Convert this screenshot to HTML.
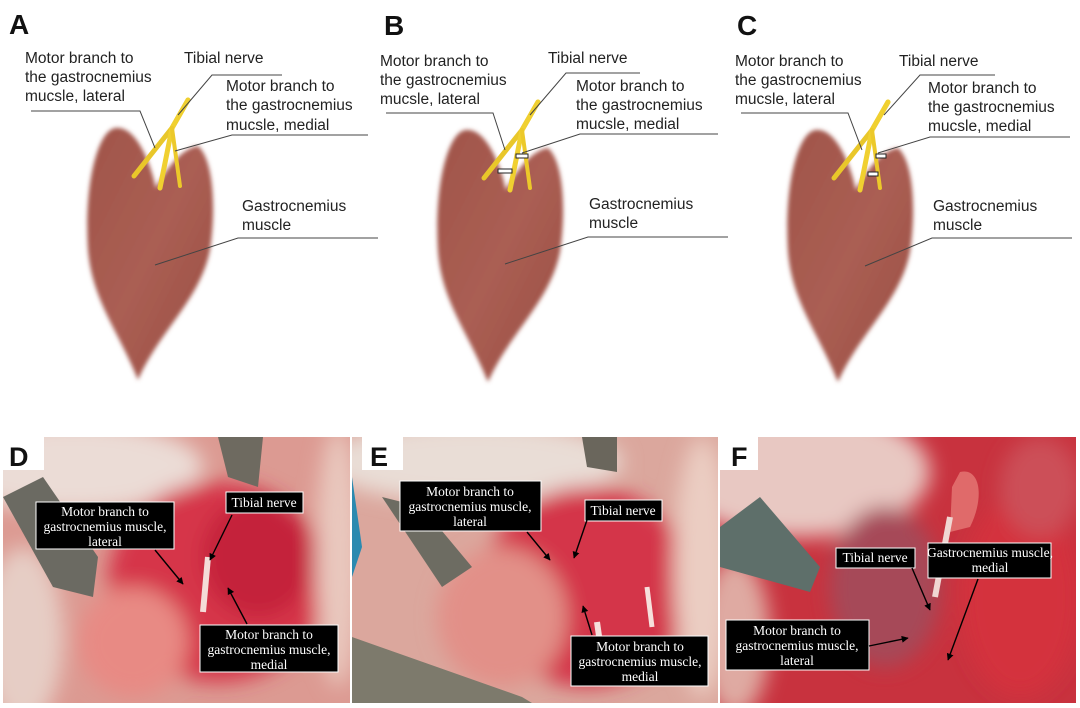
<!DOCTYPE html>
<html><head><meta charset="utf-8"><style>
html,body{margin:0;padding:0;background:#fff;}
svg{display:block;}
.lab{font-family:"Liberation Sans",sans-serif;font-size:15.5px;fill:#222;}
.big{font-family:"Liberation Sans",sans-serif;font-weight:bold;font-size:28px;fill:#111;}
.ln{stroke:#444;stroke-width:1;fill:none;}
.bx{fill:#000;stroke:#fff;stroke-width:1;}
.st{font-family:"Liberation Serif",serif;font-size:13.5px;fill:#fff;text-anchor:middle;}
.ar{stroke:#000;stroke-width:1.4;fill:none;marker-end:url(#ah);}
</style></head><body>
<svg width="1080" height="708" viewBox="0 0 1080 708" xmlns="http://www.w3.org/2000/svg">
<defs>
<filter id="bl" x="-20%" y="-20%" width="140%" height="140%"><feGaussianBlur stdDeviation="2"/></filter>
<filter id="bl2" x="-50%" y="-50%" width="200%" height="200%"><feGaussianBlur stdDeviation="10"/></filter>
<linearGradient id="mg" x1="0" y1="0" x2="1" y2="1"><stop offset="0" stop-color="#a0554a"/><stop offset="0.5" stop-color="#aa5e53"/><stop offset="1" stop-color="#9a4f44"/></linearGradient>
<marker id="ah" viewBox="0 0 10 10" refX="9" refY="5" markerWidth="5" markerHeight="5" orient="auto"><path d="M0,0L10,5L0,10z" fill="#000"/></marker>
<g id="muscle">
<path filter="url(#bl)" fill="url(#mg)" d="M115,128 C135,125 150,160 156,188 C165,170 182,148 198,146 C214,160 216,210 210,250 C200,300 160,330 138,380 C118,330 92,300 88,250 C84,190 96,132 115,128 Z"/>
<path d="M188,100 L172,128 L134,176" stroke="#e9c72a" stroke-width="5" fill="none" stroke-linecap="round"/>
<path d="M188,100 L172,128 L160,188" stroke="#f0d030" stroke-width="5" fill="none" stroke-linecap="round"/>
<path d="M172,128 L180,186" stroke="#ecc92a" stroke-width="4" fill="none" stroke-linecap="round"/>
</g>
</defs>
<rect width="1080" height="708" fill="#fff"/>

<!-- Panel A -->
<text class="big" x="9" y="34">A</text>
<use href="#muscle"/>
<text class="lab" x="25" y="63">Motor branch to</text>
<text class="lab" x="25" y="82">the gastrocnemius</text>
<text class="lab" x="25" y="101">mucsle, lateral</text>
<path class="ln" d="M31,111 L140,111 L155,148"/>
<text class="lab" x="184" y="63">Tibial nerve</text>
<path class="ln" d="M282,75 L212,75 L178,115"/>
<text class="lab" x="226" y="91">Motor branch to</text>
<text class="lab" x="226" y="110">the gastrocnemius</text>
<text class="lab" x="226" y="130">mucsle, medial</text>
<path class="ln" d="M368,135 L232,135 L175,151"/>
<text class="lab" x="242" y="211">Gastrocnemius</text>
<text class="lab" x="242" y="230">muscle</text>
<path class="ln" d="M378,238 L238,238 L155,265"/>

<!-- Panel B -->
<text class="big" x="384" y="35">B</text>
<g transform="translate(350,2)"><use href="#muscle"/>
<g stroke="#222" stroke-width="1" fill="#fff"><rect x="148" y="167" width="14" height="4"/><rect x="166" y="152" width="12" height="4"/></g></g>
<text class="lab" x="380" y="66">Motor branch to</text>
<text class="lab" x="380" y="85">the gastrocnemius</text>
<text class="lab" x="380" y="104">mucsle, lateral</text>
<path class="ln" d="M386,113 L493,113 L505,150"/>
<text class="lab" x="548" y="63">Tibial nerve</text>
<path class="ln" d="M640,73 L566,73 L530,115"/>
<text class="lab" x="576" y="91">Motor branch to</text>
<text class="lab" x="576" y="110">the gastrocnemius</text>
<text class="lab" x="576" y="129">mucsle, medial</text>
<path class="ln" d="M718,134 L580,134 L522,153"/>
<text class="lab" x="589" y="209">Gastrocnemius</text>
<text class="lab" x="589" y="228">muscle</text>
<path class="ln" d="M728,237 L588,237 L505,264"/>

<!-- Panel C -->
<text class="big" x="737" y="35">C</text>
<g transform="translate(700,2)"><use href="#muscle"/>
<g stroke="#222" stroke-width="1" fill="#fff"><rect x="168" y="170" width="10" height="4"/><rect x="176" y="152" width="10" height="4"/></g></g>
<text class="lab" x="735" y="66">Motor branch to</text>
<text class="lab" x="735" y="85">the gastrocnemius</text>
<text class="lab" x="735" y="104">mucsle, lateral</text>
<path class="ln" d="M741,113 L848,113 L862,150"/>
<text class="lab" x="899" y="66">Tibial nerve</text>
<path class="ln" d="M995,75 L920,75 L884,115"/>
<text class="lab" x="928" y="93">Motor branch to</text>
<text class="lab" x="928" y="112">the gastrocnemius</text>
<text class="lab" x="928" y="131">mucsle, medial</text>
<path class="ln" d="M1070,137 L930,137 L878,153"/>
<text class="lab" x="933" y="211">Gastrocnemius</text>
<text class="lab" x="933" y="230">muscle</text>
<path class="ln" d="M1072,238 L932,238 L865,266"/>

<!-- Photo D -->
<svg x="3" y="437" width="347" height="266" viewBox="0 0 347 266">
<rect width="347" height="266" fill="#dc9a92"/>
<g filter="url(#bl2)">
<ellipse cx="70" cy="30" rx="130" ry="45" fill="#ebdcd6"/>
<ellipse cx="20" cy="200" rx="40" ry="90" fill="#e6cdc5"/>
<ellipse cx="215" cy="145" rx="110" ry="100" fill="#d6354a"/>
<ellipse cx="255" cy="120" rx="55" ry="60" fill="#c4223a"/>
<ellipse cx="130" cy="205" rx="55" ry="55" fill="#e88a84"/>
<ellipse cx="335" cy="120" rx="22" ry="130" fill="#e9c8be"/>
</g>
<path d="M0,60 L50,150 L90,160 L95,120 L40,40 Z" fill="#6b6a62"/>
<path d="M215,0 L260,0 L255,50 L225,40 Z" fill="#6e6a60"/>
<path d="M205,120 L200,175" stroke="#f4dcd8" stroke-width="6"/>
</svg>
<rect x="3" y="437" width="41" height="33" fill="#fff"/>
<text class="big" x="9" y="466" style="font-size:27px">D</text>
<rect class="bx" x="36" y="502" width="138" height="47"/>
<text class="st" x="105" y="516">Motor branch to</text>
<text class="st" x="105" y="531">gastrocnemius muscle,</text>
<text class="st" x="105" y="546">lateral</text>
<path class="ar" d="M155,550 L183,584"/>
<rect class="bx" x="226" y="492" width="77" height="21"/>
<text class="st" x="264" y="507">Tibial nerve</text>
<path class="ar" d="M232,515 L210,560"/>
<rect class="bx" x="200" y="625" width="138" height="47"/>
<text class="st" x="269" y="639">Motor branch to</text>
<text class="st" x="269" y="654">gastrocnemius muscle,</text>
<text class="st" x="269" y="669">medial</text>
<path class="ar" d="M247,624 L228,588"/>

<!-- Photo E -->
<svg x="352" y="437" width="366" height="266" viewBox="0 0 366 266">
<rect width="366" height="266" fill="#dba79d"/>
<g filter="url(#bl2)">
<ellipse cx="120" cy="25" rx="150" ry="40" fill="#e9ddd6"/>
<ellipse cx="235" cy="150" rx="105" ry="100" fill="#d4344a"/>
<ellipse cx="150" cy="180" rx="65" ry="70" fill="#e29088"/>
<ellipse cx="350" cy="130" rx="28" ry="130" fill="#ebcdc2"/>
</g>
<path d="M0,40 L10,110 L0,140 Z" fill="#2a8ab0"/>
<path d="M30,60 L90,150 L120,130 L70,70 Z" fill="#6d6c62"/>
<path d="M0,200 L170,260 L180,266 L0,266 Z" fill="#7d7a6c"/>
<path d="M230,0 L265,0 L265,35 L235,30 Z" fill="#6a665c"/>
<path d="M295,150 L300,190" stroke="#f6e0dc" stroke-width="5"/>
<path d="M245,185 L250,220" stroke="#f6e0dc" stroke-width="6"/>
</svg>
<rect x="362" y="437" width="41" height="33" fill="#fff"/>
<text class="big" x="370" y="466" style="font-size:27px">E</text>
<rect class="bx" x="400" y="481" width="141" height="50"/>
<text class="st" x="470" y="496">Motor branch to</text>
<text class="st" x="470" y="511">gastrocnemius muscle,</text>
<text class="st" x="470" y="526">lateral</text>
<path class="ar" d="M527,532 L550,560"/>
<rect class="bx" x="585" y="500" width="77" height="21"/>
<text class="st" x="623" y="515">Tibial nerve</text>
<path class="ar" d="M587,520 L574,558"/>
<rect class="bx" x="571" y="636" width="137" height="50"/>
<text class="st" x="640" y="651">Motor branch to</text>
<text class="st" x="640" y="666">gastrocnemius muscle,</text>
<text class="st" x="640" y="681">medial</text>
<path class="ar" d="M592,635 L583,606"/>

<!-- Photo F -->
<svg x="720" y="437" width="356" height="266" viewBox="0 0 356 266">
<rect width="356" height="266" fill="#c8323e"/>
<g filter="url(#bl2)">
<ellipse cx="80" cy="35" rx="130" ry="65" fill="#e8c8c2"/>
<ellipse cx="15" cy="200" rx="35" ry="80" fill="#dfaaa2"/>
<ellipse cx="165" cy="150" rx="55" ry="80" fill="#a64858"/>
<ellipse cx="300" cy="160" rx="60" ry="100" fill="#d4323e"/>
<ellipse cx="320" cy="50" rx="40" ry="50" fill="#cc5058"/>
</g>
<path d="M0,90 L40,60 L100,130 L90,155 L0,130 Z" fill="#5e6f6a"/>
<path d="M240,35 C260,30 265,60 250,90 L230,95 L232,50 Z" fill="#e06a6a"/>
<path d="M230,80 L215,160" stroke="#f0d6d2" stroke-width="6"/>
</svg>
<rect x="720" y="437" width="38" height="33" fill="#fff"/>
<text class="big" x="731" y="466" style="font-size:27px">F</text>
<rect class="bx" x="836" y="548" width="79" height="20"/>
<text class="st" x="875" y="562">Tibial nerve</text>
<path class="ar" d="M912,568 L930,610"/>
<rect class="bx" x="928" y="543" width="123" height="35"/>
<text class="st" x="990" y="557">Gastrocnemius muscle,</text>
<text class="st" x="990" y="572">medial</text>
<path class="ar" d="M978,579 L948,660"/>
<rect class="bx" x="726" y="620" width="143" height="50"/>
<text class="st" x="797" y="635">Motor branch to</text>
<text class="st" x="797" y="650">gastrocnemius muscle,</text>
<text class="st" x="797" y="665">lateral</text>
<path class="ar" d="M869,646 L908,638"/>
</svg>
</body></html>
